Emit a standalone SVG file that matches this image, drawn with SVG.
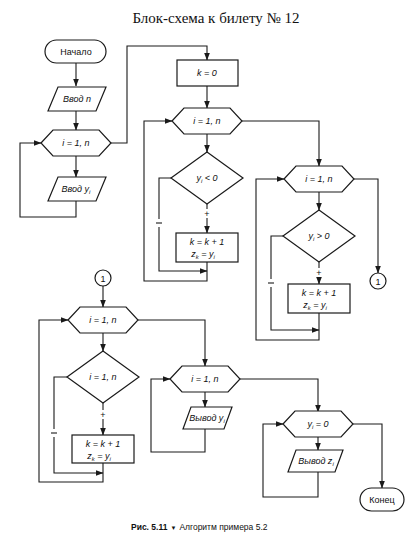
<svg xmlns="http://www.w3.org/2000/svg" width="418" height="544" viewBox="0 0 418 544">
<style>
.s{fill:#fff;stroke:#1a1a1a;stroke-width:1.2}
.c{fill:none;stroke:#1a1a1a;stroke-width:1.1}
.t{font-family:"Liberation Sans",Arial,sans-serif;font-size:9px;fill:#111;text-anchor:middle}
.i{font-style:italic}
.sub{font-size:6px}
.title{font-family:"Liberation Serif","Times New Roman",serif;font-size:15px;fill:#111;text-anchor:middle}
.cap{font-family:"Liberation Sans",Arial,sans-serif;font-size:8.5px;fill:#111}
</style>
<defs>
<marker id="a" markerWidth="8" markerHeight="6" refX="7.5" refY="3" orient="auto" markerUnits="userSpaceOnUse">
<path d="M0,0 L8,3 L0,6 Z" fill="#1a1a1a"/>
</marker>
</defs>
<rect width="418" height="544" fill="#fff"/>
<text class="title" x="216" y="23">Блок-схема к билету № 12</text>

<g id="connectors">
<path class="c" d="M76,63 V86" marker-end="url(#a)"/>
<path class="c" d="M76,111 V130" marker-end="url(#a)"/>
<path class="c" d="M76,156 V177" marker-end="url(#a)"/>
<path class="c" d="M76,201 V217 H20 V143 H41" marker-end="url(#a)"/>
<path class="c" d="M111,143 H127 V46 H207 V60" marker-end="url(#a)"/>

<path class="c" d="M207,86 V108" marker-end="url(#a)"/>
<path class="c" d="M207,134 V152" marker-end="url(#a)"/>
<path class="c" d="M207,204 V209"/>
<path class="c" d="M207,218 V233" marker-end="url(#a)"/>
<path class="c" d="M171,178 H159 V219"/>
<path class="c" d="M159,227 V271 H207" marker-end="url(#a)"/>
<path class="c" d="M207,262 V281 H144 V121 H172" marker-end="url(#a)"/>
<path class="c" d="M242,121 H319 V166" marker-end="url(#a)"/>

<path class="c" d="M319,192 V210" marker-end="url(#a)"/>
<path class="c" d="M319,262 V268"/>
<path class="c" d="M319,277 V284" marker-end="url(#a)"/>
<path class="c" d="M283,236 H271 V279"/>
<path class="c" d="M271,287 V330 H319" marker-end="url(#a)"/>
<path class="c" d="M319,313 V340 H256 V179 H284" marker-end="url(#a)"/>
<path class="c" d="M354,179 H378 V273" marker-end="url(#a)"/>

<path class="c" d="M103,286 V307" marker-end="url(#a)"/>
<path class="c" d="M103,333 V351" marker-end="url(#a)"/>
<path class="c" d="M103,403 V410"/>
<path class="c" d="M103,419 V435" marker-end="url(#a)"/>
<path class="c" d="M67,377 H54 V429"/>
<path class="c" d="M54,437 V473 H103" marker-end="url(#a)"/>
<path class="c" d="M103,463 V482 H39 V320 H68" marker-end="url(#a)"/>
<path class="c" d="M138,320 H205 V366" marker-end="url(#a)"/>
<path class="c" d="M205,392 V407" marker-end="url(#a)"/>
<path class="c" d="M205,429 V452 H151 V379 H170" marker-end="url(#a)"/>
<path class="c" d="M240,379 H318 V412" marker-end="url(#a)"/>
<path class="c" d="M318,436 V450" marker-end="url(#a)"/>
<path class="c" d="M318,472 V497 H263 V424 H283" marker-end="url(#a)"/>
<path class="c" d="M353,424 H382 V488" marker-end="url(#a)"/>

<text class="t" x="207" y="217">+</text>
<path class="c" d="M156,223 H162"/>
<text class="t" x="319" y="276">+</text>
<path class="c" d="M268,283 H274"/>
<text class="t" x="103" y="418">+</text>
<path class="c" d="M51,433 H57"/>
</g>

<g id="start">
<rect class="s" x="45" y="40" width="61" height="23" rx="11.5"/>
<text class="t" x="76" y="55">Начало</text>
</g>
<g id="input-n">
<polygon class="s" points="58,87 106,87 96,111 48,111"/>
<text class="t i" x="77" y="102">Ввод n</text>
</g>
<g id="loop1">
<polygon class="s" points="41,143 53,130 99,130 111,143 99,156 53,156"/>
<text class="t i" x="76" y="146">i = 1, n</text>
</g>
<g id="input-y">
<polygon class="s" points="58,177 106,177 96,201 48,201"/>
<text class="t i" x="76" y="192">Ввод y<tspan class="sub" dy="2">i</tspan></text>
</g>

<g id="k0">
<rect class="s" x="177" y="60" width="61" height="26"/>
<text class="t i" x="207" y="76">k = 0</text>
</g>
<g id="loop2">
<polygon class="s" points="172,121 184,108 230,108 242,121 230,134 184,134"/>
<text class="t i" x="207" y="124">i = 1, n</text>
</g>
<g id="cond1">
<polygon class="s" points="171,178 207,152 243,178 207,204"/>
<text class="t i" x="207" y="181">y<tspan class="sub" dy="2">i</tspan><tspan dy="-2"> &lt; 0</tspan></text>
</g>
<g id="assign1">
<rect class="s" x="176" y="233" width="62" height="29"/>
<text class="t i" x="207" y="245">k = k + 1</text>
<text class="t i" x="203" y="257">z<tspan class="sub" dy="2">k</tspan><tspan dy="-2"> = y</tspan><tspan class="sub" dy="2">i</tspan></text>
</g>

<g id="loop3">
<polygon class="s" points="284,179 296,166 342,166 354,179 342,192 296,192"/>
<text class="t i" x="319" y="182">i = 1, n</text>
</g>
<g id="cond2">
<polygon class="s" points="283,236 319,210 355,236 319,262"/>
<text class="t i" x="319" y="239">y<tspan class="sub" dy="2">i</tspan><tspan dy="-2"> &gt; 0</tspan></text>
</g>
<g id="assign2">
<rect class="s" x="288" y="284" width="62" height="29"/>
<text class="t i" x="319" y="296">k = k + 1</text>
<text class="t i" x="315" y="308">z<tspan class="sub" dy="2">k</tspan><tspan dy="-2"> = y</tspan><tspan class="sub" dy="2">i</tspan></text>
</g>
<g id="conn-out">
<circle class="s" cx="378" cy="281" r="8"/>
<text class="t" x="378" y="284.5">1</text>
</g>

<g id="conn-in">
<circle class="s" cx="103" cy="278" r="8"/>
<text class="t" x="103" y="281.5">1</text>
</g>
<g id="loop4">
<polygon class="s" points="68,320 80,307 126,307 138,320 126,333 80,333"/>
<text class="t i" x="103" y="323">i = 1, n</text>
</g>
<g id="cond3">
<polygon class="s" points="67,377 103,351 139,377 103,403"/>
<text class="t i" x="103" y="380">i = 1, n</text>
</g>
<g id="assign3">
<rect class="s" x="72" y="435" width="62" height="28"/>
<text class="t i" x="103" y="447">k = k + 1</text>
<text class="t i" x="99" y="459">z<tspan class="sub" dy="2">k</tspan><tspan dy="-2"> = y</tspan><tspan class="sub" dy="2">i</tspan></text>
</g>
<g id="loop5">
<polygon class="s" points="170,379 182,366 228,366 240,379 228,392 182,392"/>
<text class="t i" x="205" y="382">i = 1, n</text>
</g>
<g id="output-y">
<polygon class="s" points="191,407 232,407 224,429 183,429"/>
<text class="t i" x="207" y="421">Вывод y<tspan class="sub" dy="2">i</tspan></text>
</g>
<g id="loop6">
<polygon class="s" points="283,424 295,411 341,411 353,424 341,437 295,437"/>
<text class="t i" x="318" y="427">y<tspan class="sub" dy="2">i</tspan><tspan dy="-2"> = 0</tspan></text>
</g>
<g id="output-z">
<polygon class="s" points="296,450 343,450 335,472 288,472"/>
<text class="t i" x="316" y="464">Вывод z<tspan class="sub" dy="2">i</tspan></text>
</g>
<g id="end">
<rect class="s" x="360" y="488" width="44" height="23" rx="11.5"/>
<text class="t" x="382" y="503">Конец</text>
</g>

<text class="cap" x="131" y="530"><tspan font-weight="bold">Рис. 5.11</tspan><tspan font-size="6" dx="3">▼</tspan><tspan dx="3">Алгоритм примера 5.2</tspan></text>
</svg>
